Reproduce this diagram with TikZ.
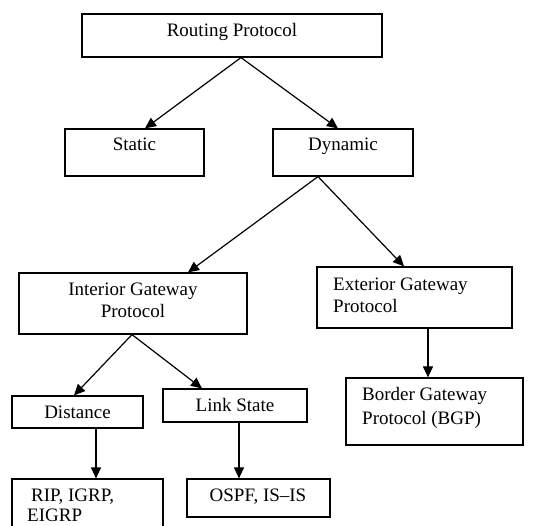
\documentclass[tikz,border=0pt]{standalone}
\usepackage{fontspec}
\setmainfont{Liberation Serif}
\usetikzlibrary{arrows.meta,calc}
\begin{document}
\begin{tikzpicture}[x=1pt,y=-1pt,
  box/.style={draw,line width=1.2pt,inner sep=0pt,rectangle},
  lbl/.style={font=\fontsize{19}{22}\selectfont,inner sep=0pt,anchor=base},
  lbll/.style={lbl,anchor=base west},
  arr/.style={draw,line width=1.2pt,-{Triangle[length=11pt,width=10pt]}}]
\useasboundingbox (0,0) rectangle (539,526);
\fill[white] (0,0) rectangle (539,526);
\begin{scope}
\clip (0,0) rectangle (539,526);
% boxes
\node[box,minimum width=300pt,minimum height=43pt] (rp) at (232,35.5) {};
\node[box,minimum width=139pt,minimum height=47pt] (st) at (134.5,152.5) {};
\node[box,minimum width=140pt,minimum height=47pt] (dy) at (343,152.5) {};
\node[box,minimum width=228pt,minimum height=61pt] (igp) at (133,303.5) {};
\node[box,minimum width=195pt,minimum height=61pt] (egp) at (414.5,297.5) {};
\node[box,minimum width=131pt,minimum height=32pt] (di) at (77.5,412) {};
\node[box,minimum width=144pt,minimum height=33pt] (ls) at (235,405.5) {};
\node[box,minimum width=177pt,minimum height=67pt] (bgp) at (434.5,411.5) {};
\node[box,minimum width=151pt,minimum height=61pt] (rip) at (87.5,509.5) {};
\node[box,minimum width=143pt,minimum height=38pt] (os) at (258.5,498) {};
\end{scope}
% texts
\node[lbl] (trp) at (232,37) {Routing Protocol};
\node[lbl] (tst) at (134.5,151) {Static};
\node[lbl] (tdy) at (343,151) {Dynamic};
\node[lbl] (tigp1) at (133,296) {Interior Gateway};
\node[lbl] (tigp2) at (133,318) {Protocol};
\node[lbll] (tegp1) at (333,291) {Exterior Gateway};
\node[lbll] (tegp2) at (333,313) {Protocol};
\node[lbl] (tdi) at (77.5,419) {Distance};
\node[lbl] (tls) at (235,412) {Link State};
\node[lbll] (tbgp1) at (362,401) {Border Gateway};
\node[lbll] (tbgp2) at (362,425) {Protocol (BGP)};
\node[lbll] (trip1) at (31,502) {RIP, IGRP,};
\node[lbll] (trip2) at (27,522) {EIGRP};
\node[lbl] (tos) at (258,502) {OSPF, IS--IS};
% arrows
\draw[arr] ([xshift=9pt]rp.south) -- ([xshift=10.5pt]st.north);
\draw[arr] ([xshift=9pt]rp.south) -- ([xshift=-5pt]dy.north);
\draw[arr] ([xshift=-25pt]dy.south) -- ([xshift=55pt]igp.north);
\draw[arr] ([xshift=-25pt]dy.south) -- ([xshift=-10.5pt]egp.north);
\draw[arr] ([xshift=-1pt]igp.south) -- ([xshift=-3.5pt]di.north);
\draw[arr] ([xshift=-1pt]igp.south) -- ([xshift=-33pt]ls.north);
\draw[arr] ([xshift=13.5pt]egp.south) -- ([xshift=-6.5pt]bgp.north);
\draw[arr] ([xshift=18.5pt]di.south) -- ([xshift=8.5pt]rip.north);
\draw[arr] ([xshift=4pt]ls.south) -- ([xshift=-19.5pt]os.north);
\end{tikzpicture}
\end{document}
